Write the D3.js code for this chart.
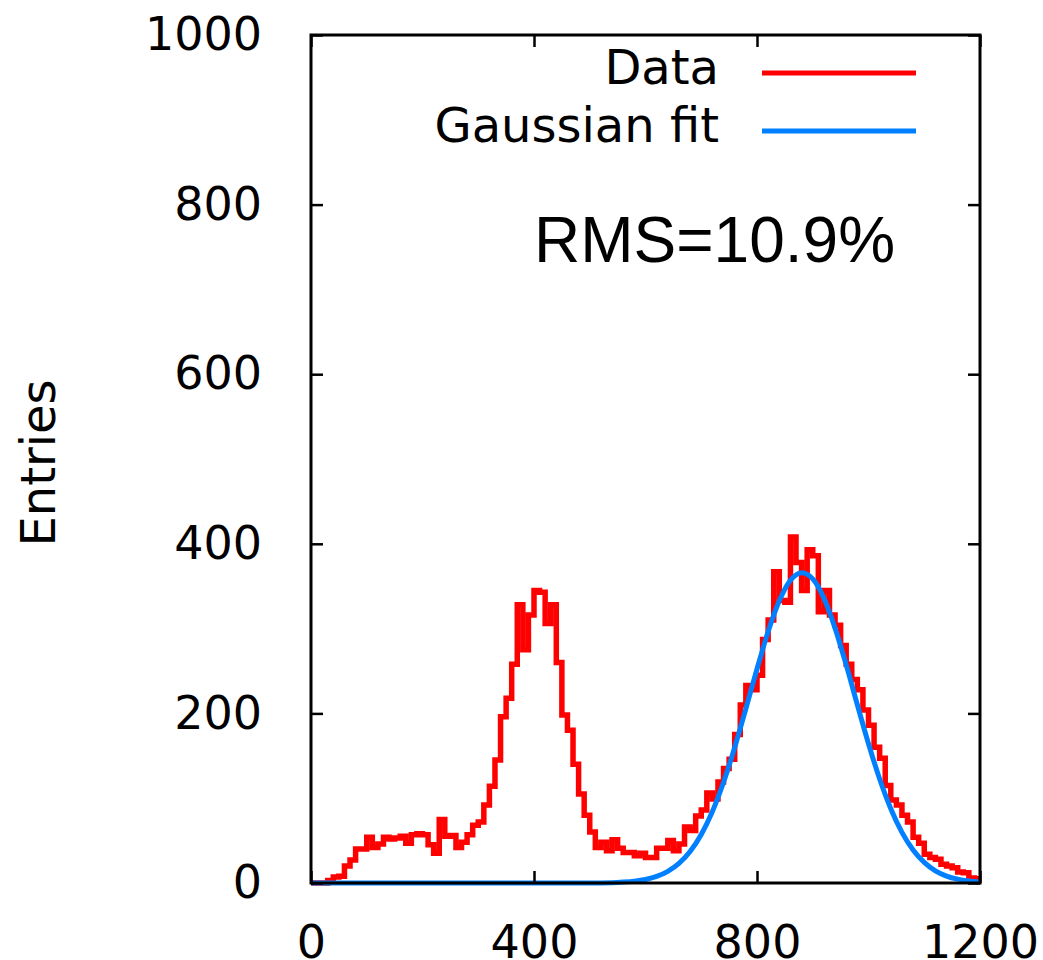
<!DOCTYPE html>
<html>
<head>
<meta charset="utf-8">
<script src="https://cdn.jsdelivr.net/npm/d3@7"></script>
<style>
  body { margin: 0; background: #fff; }
  svg { display: block; }
</style>
</head>
<body>
<div id="chart"></div>
<script>
// histogram: 120 bins of width 10, from 0 to 1200
var binWidth = 10;
var counts = [
  0, 0, 0, 3, 7, 8, 20, 27, 40, 40,
  54, 42, 46, 54, 52, 53, 55, 47, 57, 58,
  57, 45, 35, 75, 55, 56, 42, 48, 57, 68,
  72, 92, 114, 145, 196, 218, 258, 328, 275, 316,
  345, 343, 306, 328, 260, 198, 180, 140, 105, 80,
  60, 42, 48, 38, 51, 41, 36, 36, 32, 35,
  30, 30, 41, 41, 50, 38, 46, 66, 62, 79,
  86, 106, 99, 119, 135, 146, 175, 210, 233, 228,
  245, 287, 310, 367, 333, 331, 408, 378, 345, 393,
  386, 320, 345, 316, 304, 280, 258, 240, 228, 204,
  186, 160, 147, 115, 98, 92, 80, 72, 54, 47,
  34, 30, 28, 22, 20, 18, 13, 12, 6, 5
];

// fitted curve
var fitX = [0, 100, 200, 300, 400, 500, 540,
  560, 580, 600, 620, 640, 660, 680, 700, 720, 740, 760, 780, 800,
  820, 840, 860, 880, 900, 920, 940, 960, 980, 1000, 1020, 1040,
  1060, 1080, 1100, 1120, 1140, 1160, 1180, 1200];
var fitY = [0, 0, 0, 0, 0, 0, 0.4,
  1.1, 2.2, 4.2, 7.7, 13.7, 23.1, 37.2, 57.3, 84.4, 118.8, 159.8, 205.5, 252.4,
  296.5, 332.8, 357, 366, 358.6, 335.8, 300.6, 257.2, 210.2, 164.3, 122.7, 87.6,
  59.7, 38.9, 24.3, 14.4, 8.2, 4.5, 2.3, 1.2];

var xTicks = [0, 400, 800, 1200];
var yTicks = [0, 200, 400, 600, 800, 1000];
var seriesNames = ["Data", "Gaussian fit"];
var seriesColors = ["#ff0000", "#0080ff"];
var rmsLabel = "RMS=10.9%";

var W = 1043, H = 960;
var plotLeft = 311, plotRight = 980, plotTop = 35, plotBottom = 883;
var tickFont = "DejaVu Sans";

var x = d3.scaleLinear().domain([0, 1200]).range([plotLeft, plotRight]);
var y = d3.scaleLinear().domain([0, 1000]).range([plotBottom, plotTop]);

var svg = d3.select("#chart").append("svg")
    .attr("width", W)
    .attr("height", H);

// data as steps
var steps = counts.map(function(c, i) { return [i * binWidth, c]; });
steps.push([counts.length * binWidth, counts[counts.length - 1]]);

var stepLine = d3.line()
    .x(function(d) { return x(d[0]); })
    .y(function(d) { return y(d[1]); })
    .curve(d3.curveStepAfter);

svg.append("path")
    .datum(steps)
    .attr("fill", "none")
    .attr("stroke", seriesColors[0])
    .attr("stroke-width", 5.5)
    .attr("d", stepLine);

var fitLine = d3.line()
    .x(function(d, i) { return x(fitX[i]); })
    .y(function(d) { return y(d); })
    .curve(d3.curveMonotoneX);

svg.append("path")
    .datum(fitY)
    .attr("fill", "none")
    .attr("stroke", seriesColors[1])
    .attr("stroke-width", 5)
    .attr("d", fitLine);

// axes, ticks pointing inward
function styleAxis(g) {
  g.select(".domain").remove();
  g.selectAll(".tick line").attr("stroke", "#000").attr("stroke-width", 2.5);
  g.selectAll(".tick text")
    .attr("fill", "#000")
    .style("font-family", tickFont)
    .style("font-size", "46px");
}

var fmt = d3.format("d");

svg.append("g")
    .attr("transform", "translate(" + plotLeft + ",0)")
    .call(d3.axisLeft(y).tickValues(yTicks).tickSize(-12).tickPadding(49).tickFormat(fmt))
    .call(styleAxis);

svg.append("g")
    .attr("transform", "translate(" + plotRight + ",0)")
    .call(d3.axisRight(y).tickValues(yTicks).tickSize(-12).tickFormat(""))
    .call(styleAxis);

svg.append("g")
    .attr("transform", "translate(0," + plotBottom + ")")
    .call(d3.axisBottom(x).tickValues(xTicks).tickSize(-12).tickPadding(42).tickFormat(fmt))
    .call(styleAxis);

svg.append("g")
    .attr("transform", "translate(0," + plotTop + ")")
    .call(d3.axisTop(x).tickValues(xTicks).tickSize(-12).tickFormat(""))
    .call(styleAxis);

// frame
svg.append("rect")
    .attr("x", plotLeft)
    .attr("y", plotTop)
    .attr("width", plotRight - plotLeft)
    .attr("height", plotBottom - plotTop)
    .attr("fill", "none")
    .attr("stroke", "#000")
    .attr("stroke-width", 3);

// y label
svg.append("text")
    .attr("transform", "translate(55," + ((plotTop + plotBottom) / 2 + 4) + ") rotate(-90)")
    .attr("text-anchor", "middle")
    .style("font-family", tickFont)
    .style("font-size", "48px")
    .text("Entries");

// legend
var legend = svg.append("g");
seriesNames.forEach(function(name, i) {
  var ly = 73 + i * 58;
  legend.append("text")
      .attr("x", 719)
      .attr("y", ly + 11)
      .attr("text-anchor", "end")
      .style("font-family", tickFont)
      .style("font-size", "48px")
      .text(name);
  legend.append("line")
      .attr("x1", 762).attr("x2", 916)
      .attr("y1", ly).attr("y2", ly)
      .attr("stroke", seriesColors[i])
      .attr("stroke-width", 5);
});

svg.append("text")
    .attr("x", 534)
    .attr("y", 262)
    .style("font-family", "Liberation Sans")
    .style("font-size", "64px")
    .text(rmsLabel);
</script>
</body>
</html>
